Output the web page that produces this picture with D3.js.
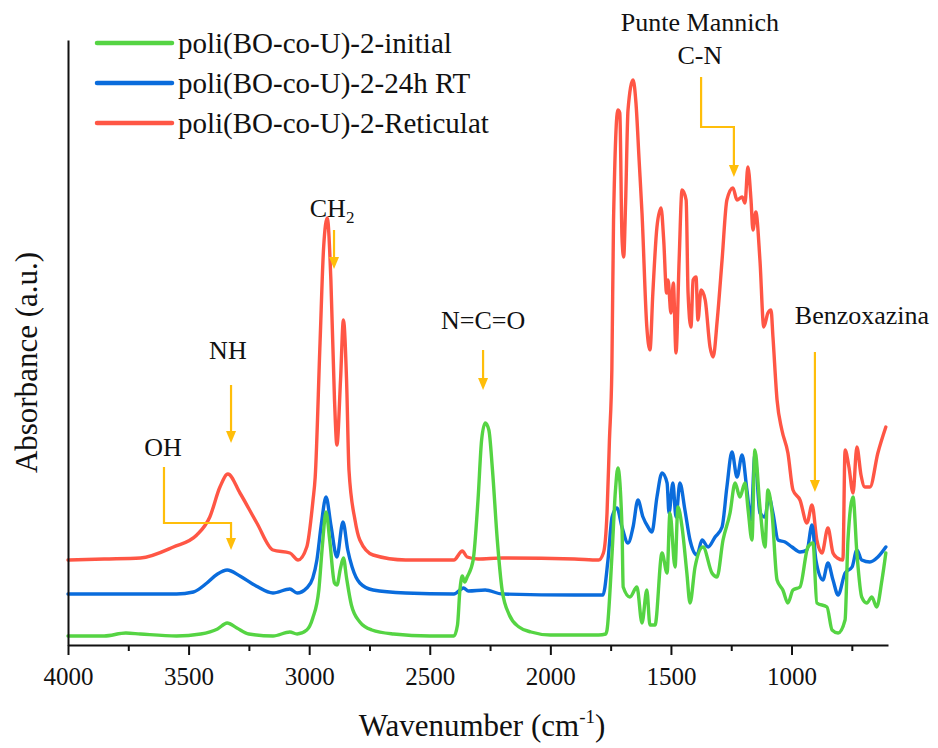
<!DOCTYPE html>
<html>
<head>
<meta charset="utf-8">
<script src="https://cdn.jsdelivr.net/npm/d3@7"></script>
<style>
  html, body { margin: 0; padding: 0; background: #fff; }
  svg { display: block; }
</style>
</head>
<body>
<svg id="chart" width="938" height="748"></svg>
<script>
// ---------- DATA (wavenumber cm-1, absorbance a.u.) ----------
const seriesNames = ["poli(BO-co-U)-2-initial", "poli(BO-co-U)-2-24h RT", "poli(BO-co-U)-2-Reticulat"];
const seriesColors = ["#55D443", "#0A6CDC", "#FF5645"];

const initialData = [
  [4000,0.09],[3850,0.09],[3760,0.12],[3700,0.11],[3550,0.09],[3450,0.11],[3380,0.16],[3340,0.22],
  [3300,0.17],[3250,0.11],[3150,0.09],[3080,0.13],[3050,0.11],[3010,0.15],[2985,0.27],[2960,0.55],
  [2945,1.00],[2930,1.33],[2915,1.05],[2895,0.62],[2885,0.60],[2870,0.77],[2858,0.87],[2845,0.67],
  [2825,0.40],[2790,0.23],[2740,0.15],[2650,0.11],[2500,0.09],[2400,0.09],[2385,0.20],[2375,0.55],
  [2365,0.69],[2355,0.63],[2345,0.68],[2320,0.85],[2300,1.45],[2285,2.05],[2270,2.22],[2255,2.15],
  [2240,1.75],[2220,1.05],[2200,0.55],[2170,0.30],[2130,0.18],[2080,0.13],[2000,0.10],[1800,0.10],
  [1770,0.11],[1765,0.15],[1744,0.92],[1730,1.55],[1720,1.77],[1703,1.18],[1698,0.58],[1670,0.48],
  [1641,0.58],[1620,0.22],[1600,0.55],[1587,0.20],[1566,0.20],[1537,0.92],[1516,0.72],[1504,1.32],
  [1483,0.78],[1471,1.38],[1454,1.18],[1434,0.72],[1421,0.42],[1400,0.78],[1367,0.98],[1330,0.72],
  [1309,0.68],[1284,1.05],[1255,1.32],[1234,1.62],[1214,1.48],[1193,1.62],[1180,1.35],[1164,1.05],
  [1152,1.95],[1131,1.38],[1110,0.98],[1098,1.55],[1081,1.32],[1060,0.65],[1036,0.55],[1015,0.42],
  [994,0.55],[965,0.58],[932,0.98],[911,1.02],[895,0.42],[853,0.38],[832,0.15],[807,0.12],
  [778,0.25],[766,1.05],[745,1.48],[729,0.92],[709,0.48],[688,0.42],[667,0.48],[647,0.38],
  [625,0.65],[609,0.92]
];

const rt24Data = [
  [4000,0.51],[3800,0.51],[3550,0.51],[3480,0.53],[3424,0.62],[3380,0.71],[3340,0.75],[3287,0.69],
  [3220,0.59],[3150,0.52],[3080,0.56],[3050,0.52],[3010,0.57],[2985,0.67],[2968,0.85],[2950,1.20],
  [2930,1.48],[2910,1.20],[2885,0.88],[2860,1.23],[2840,0.95],[2822,0.78],[2790,0.62],[2735,0.55],
  [2600,0.52],[2400,0.51],[2360,0.57],[2340,0.54],[2270,0.55],[2200,0.51],[1900,0.50],[1782,0.50],
  [1761,0.85],[1744,1.28],[1724,1.37],[1703,1.18],[1678,1.02],[1657,1.18],[1637,1.45],[1616,1.28],
  [1595,1.18],[1579,1.13],[1558,1.48],[1537,1.72],[1516,1.62],[1508,1.32],[1492,1.62],[1479,1.28],
  [1463,1.62],[1442,1.35],[1421,1.05],[1392,0.90],[1371,1.05],[1346,0.98],[1317,1.08],[1288,1.18],
  [1268,1.58],[1247,1.93],[1226,1.68],[1205,1.90],[1185,1.55],[1168,1.25],[1152,1.90],[1131,1.32],
  [1110,1.28],[1094,1.48],[1077,1.32],[1056,1.05],[1027,1.03],[998,0.98],[965,0.93],[936,0.95],
  [915,1.20],[899,0.85],[870,0.65],[849,0.82],[828,0.65],[807,0.50],[778,0.72],[749,0.78],
  [729,0.95],[709,0.85],[675,0.83],[642,0.88],[609,0.98]
];

const reticulatData = [
  [4000,0.85],[3850,0.86],[3700,0.87],[3563,0.98],[3466,1.10],[3412,1.28],[3370,1.58],[3337,1.71],
  [3287,1.52],[3217,1.22],[3150,0.95],[3080,0.92],[3046,0.85],[3010,0.98],[2984,1.45],[2975,1.68],
  [2955,3.02],[2940,3.98],[2925,4.27],[2910,3.65],[2895,2.45],[2885,2.00],[2870,2.65],[2858,3.25],
  [2845,2.65],[2835,1.75],[2810,1.25],[2790,1.05],[2735,0.90],[2600,0.85],[2400,0.85],[2365,0.94],
  [2345,0.88],[2300,0.86],[2200,0.87],[1900,0.86],[1800,0.85],[1780,0.92],[1765,1.32],[1755,2.05],
  [1745,2.75],[1738,4.25],[1720,5.35],[1712,5.32],[1703,4.08],[1696,3.88],[1688,4.42],[1678,5.35],
  [1657,5.65],[1645,5.42],[1632,4.85],[1620,4.32],[1600,3.18],[1587,2.95],[1575,3.52],[1558,4.18],
  [1541,4.37],[1530,4.05],[1518,3.52],[1512,3.65],[1500,3.32],[1490,3.62],[1479,2.92],[1466,3.85],
  [1454,4.55],[1437,4.45],[1429,3.52],[1417,3.18],[1408,3.65],[1396,3.68],[1388,3.25],[1375,3.55],
  [1358,3.45],[1338,2.98],[1325,2.88],[1308,3.25],[1288,3.85],[1268,4.45],[1243,4.57],[1226,4.45],
  [1205,4.48],[1193,4.42],[1181,4.78],[1168,4.45],[1160,4.15],[1148,4.33],[1131,3.85],[1115,3.18],
  [1098,3.32],[1085,3.35],[1077,3.08],[1060,2.45],[1040,2.15],[1015,1.92],[994,1.55],[965,1.45],
  [936,1.22],[915,1.40],[895,1.05],[874,0.92],[849,1.17],[828,0.92],[810,0.87],[787,0.85],
  [778,1.95],[762,1.78],[745,1.52],[729,1.98],[712,1.70],[696,1.58],[675,1.58],[642,1.92],[609,2.18]
];

const xMajorTicks = [4000, 3500, 3000, 2500, 2000, 1500, 1000];
const xMinorTicks = [3750, 3250, 2750, 2250, 1750, 1250, 750];

const xTitle = "Wavenumber (cm";
const xTitleSup = "-1";
const yTitle = "Absorbance (a.u.)";

// annotations: label lines, text anchor (wavenumber, a.u.), arrow polyline
const annotations = [
  { lines: [["NH"]], text: [3337, 2.95], path: [[3324, 2.60], [3324, 2.02]] },
  { lines: [["OH"]], text: [3606, 1.98], path: [[3602, 1.78], [3602, 1.22], [3324, 1.22], [3324, 0.95]] },
  { lines: [["CH", "2"]], text: [2905, 4.37], path: [[2897, 4.15], [2897, 3.76]] },
  { lines: [["N=C=O"]], text: [2279, 3.25], path: [[2279, 2.95], [2279, 2.55]] },
  { lines: [["Punte Mannich"], ["C-N"]], text: [1380, 6.23], path: [[1375, 5.68], [1375, 5.18], [1239, 5.18], [1239, 4.68]] },
  { lines: [["Benzoxazina"]], text: [708, 3.30], path: [[903, 2.93], [903, 1.53]] }
];

// ---------- CHART ----------
const FONT = "Liberation Serif";
const svg = d3.select("#chart");
const plot = { left: 68, right: 888, top: 40, bottom: 645 };

const x = d3.scaleLinear().domain([4000, 600]).range([plot.left, plot.right]);
const y = d3.scaleLinear().domain([0, 6.05]).range([plot.bottom, plot.top]);

const line = d3.line()
  .x(d => x(d[0]))
  .y(d => y(d[1]))
  .curve(d3.curveMonotoneX);

const allSeries = [initialData, rt24Data, reticulatData];
[2, 1, 0].forEach(i => {
  svg.append("path")
    .datum(allSeries[i])
    .attr("d", line)
    .attr("fill", "none")
    .attr("stroke", seriesColors[i])
    .attr("stroke-width", 3.4)
    .attr("stroke-linejoin", "round")
    .attr("stroke-linecap", "round");
});

// x axis
const xAxis = d3.axisBottom(x)
  .tickValues(xMajorTicks)
  .tickSize(10)
  .tickSizeOuter(0)
  .tickPadding(12)
  .tickFormat(d3.format("d"));
const gx = svg.append("g").attr("transform", `translate(0,${plot.bottom})`).call(xAxis);
gx.attr("font-family", null).attr("font-size", null);
gx.select(".domain").attr("stroke", "#111").attr("stroke-width", 2);
gx.selectAll(".tick line").attr("stroke", "#111").attr("stroke-width", 2);
gx.selectAll(".tick text")
  .style("font-family", FONT)
  .attr("font-size", 25).attr("fill", "#111");

const xAxisMinor = d3.axisBottom(x).tickValues(xMinorTicks).tickSize(6).tickSizeOuter(0).tickFormat("");
const gxm = svg.append("g").attr("transform", `translate(0,${plot.bottom})`).call(xAxisMinor);
gxm.select(".domain").remove();
gxm.selectAll(".tick line").attr("stroke", "#111").attr("stroke-width", 2);

// y axis (line only)
const yAxis = d3.axisLeft(y).tickValues([]).tickSizeOuter(0);
const gy = svg.append("g").attr("transform", `translate(${plot.left},0)`).call(yAxis);
gy.select(".domain").attr("stroke", "#111").attr("stroke-width", 2);

// axis titles
const xt = svg.append("text")
  .attr("x", (plot.left + plot.right) / 2 + 4)
  .attr("y", 736)
  .attr("text-anchor", "middle")
  .style("font-family", FONT)
  .attr("fill", "#111")
  .attr("font-size", 31);
xt.append("tspan").text(xTitle);
xt.append("tspan").attr("font-size", 19).attr("dy", -13).text(xTitleSup);
xt.append("tspan").attr("dy", 13).text(")");

svg.append("text")
  .attr("transform", `translate(37,${(plot.top + plot.bottom) / 2 + 20}) rotate(-90)`)
  .attr("text-anchor", "middle")
  .style("font-family", FONT)
  .attr("fill", "#111")
  .attr("font-size", 31)
  .text(yTitle);

// legend
const legend = svg.append("g");
seriesNames.forEach((name, i) => {
  const ly = 43 + i * 40;
  legend.append("line")
    .attr("x1", 97).attr("x2", 172).attr("y1", ly).attr("y2", ly)
    .attr("stroke", seriesColors[i]).attr("stroke-width", 4.5).attr("stroke-linecap", "round");
  legend.append("text")
    .attr("x", 178).attr("y", ly + 10)
    .style("font-family", FONT)
    .attr("fill", "#111")
    .attr("font-size", 29)
    .text(name);
});

// annotations
const orange = "#FFBE0A";
annotations.forEach(a => {
  const pts = a.path.map(p => [x(p[0]), y(p[1])]);
  const n = pts.length;
  const tip = pts[n - 1];
  const ah = 12, aw = 5;
  const shaft = pts.slice(0, n - 1).concat([[tip[0], tip[1] - ah + 1]]);
  svg.append("path")
    .attr("d", d3.line()(shaft))
    .attr("fill", "none").attr("stroke", orange).attr("stroke-width", 2.2);
  svg.append("path")
    .attr("d", `M${tip[0]},${tip[1]} L${tip[0] - aw},${tip[1] - ah} L${tip[0] + aw},${tip[1] - ah} Z`)
    .attr("fill", orange);
  a.lines.forEach((ln, j) => {
    const t = svg.append("text")
      .attr("x", x(a.text[0]))
      .attr("y", y(a.text[1]) + 9 + j * 33)
      .attr("text-anchor", "middle")
      .style("font-family", FONT)
      .attr("fill", "#111")
      .attr("font-size", 26);
    t.append("tspan").text(ln[0]);
    if (ln[1]) t.append("tspan").attr("font-size", 17).attr("dy", 6).text(ln[1]);
  });
});
</script>
</body>
</html>
